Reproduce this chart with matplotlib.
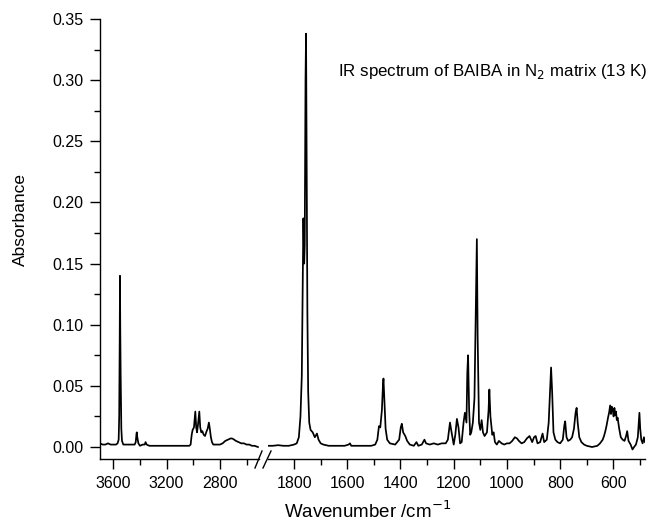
import matplotlib
matplotlib.use("Agg")
import matplotlib.pyplot as plt
from matplotlib.lines import Line2D
from matplotlib.ticker import MultipleLocator

plt.rcParams['font.family'] = ['Liberation Sans', 'DejaVu Sans']

# ---- data: high-wavenumber region (cm-1, absorbance) ----
wn_hi = [3700, 3680, 3660, 3640, 3620, 3600, 3580, 3568, 3560, 3556, 3552, 3550,
         3548, 3545, 3540, 3535, 3525, 3500, 3470, 3440, 3432, 3426, 3424, 3420,
         3412, 3400, 3380, 3365, 3358, 3350, 3330, 3300, 3250, 3200, 3150, 3100,
         3060, 3030, 3020, 3012, 3005, 2995, 2985, 2978, 2972, 2965, 2955, 2948,
         2940, 2932, 2922, 2912, 2900, 2892, 2883, 2876, 2868, 2860, 2850, 2840,
         2820, 2800, 2780, 2760, 2740, 2720, 2710, 2700, 2680, 2660, 2640, 2620,
         2600, 2580, 2560, 2540, 2515]
ab_hi = [0.003, 0.002, 0.002, 0.003, 0.002, 0.002, 0.002, 0.003, 0.006, 0.025, 0.090, 0.140,
         0.098, 0.060, 0.015, 0.005, 0.002, 0.002, 0.002, 0.002, 0.004, 0.011, 0.012, 0.008,
         0.003, 0.001, 0.002, 0.002, 0.004, 0.002, 0.001, 0.001, 0.001, 0.001, 0.001, 0.001,
         0.001, 0.001, 0.002, 0.010, 0.014, 0.016, 0.029, 0.016, 0.012, 0.018, 0.029, 0.016,
         0.012, 0.013, 0.010, 0.009, 0.013, 0.015, 0.020, 0.015, 0.008, 0.004, 0.002, 0.002,
         0.002, 0.002, 0.003, 0.005, 0.006, 0.007, 0.007, 0.0065, 0.005, 0.004, 0.003, 0.003,
         0.002, 0.002, 0.001, 0.001, 0.000]

# ---- data: fingerprint region (cm-1, absorbance) ----
wn_lo = [1897, 1880, 1860, 1840, 1820, 1800, 1790, 1782, 1776, 1771, 1768, 1765,
         1762, 1760, 1757, 1755, 1753, 1750, 1747, 1743, 1738, 1730, 1722, 1714,
         1708, 1700, 1690, 1670, 1650, 1630, 1610, 1595, 1590, 1585, 1560, 1530,
         1510, 1495, 1487, 1481, 1476, 1470, 1466, 1464, 1461, 1456, 1450, 1440,
         1420, 1405, 1399, 1395, 1390, 1382, 1375, 1365, 1350, 1340, 1333, 1320,
         1310, 1304, 1290, 1275, 1260, 1245, 1230, 1222, 1214, 1208, 1200, 1194,
         1188, 1182, 1176, 1170, 1163, 1158, 1152, 1149, 1146, 1142, 1138, 1134,
         1128, 1122, 1117, 1113, 1110, 1105, 1100, 1095, 1090, 1084, 1075, 1069,
         1066, 1062, 1055, 1050, 1045, 1038, 1030, 1020, 1010, 1000, 990, 980,
         970, 962, 955, 945, 935, 925, 915, 905, 898, 892, 885, 875,
         866, 860, 850, 843, 838, 834, 830, 825, 818, 810, 800, 790,
         784, 781, 776, 770, 762, 755, 748, 742, 738, 734, 728, 720,
         710, 700, 690, 680, 670, 660, 650, 640, 635, 630, 625, 620,
         616, 612, 609, 606, 602, 599, 596, 593, 590, 587, 584, 578,
         572, 565, 558, 552, 548, 543, 535, 528, 522, 515, 508, 504,
         502, 499, 495, 490, 485, 481]
ab_lo = [0.001, 0.001, 0.0015, 0.001, 0.001, 0.002, 0.003, 0.008, 0.025, 0.058, 0.120, 0.187,
         0.150, 0.165, 0.300, 0.338, 0.250, 0.110, 0.045, 0.020, 0.014, 0.012, 0.008, 0.011,
         0.006, 0.003, 0.002, 0.001, 0.001, 0.001, 0.001, 0.002, 0.003, 0.001, 0.001, 0.001,
         0.001, 0.002, 0.006, 0.017, 0.016, 0.030, 0.050, 0.056, 0.040, 0.015, 0.006, 0.003,
         0.002, 0.006, 0.016, 0.019, 0.012, 0.009, 0.005, 0.002, 0.001, 0.004, 0.001, 0.002,
         0.006, 0.003, 0.002, 0.003, 0.002, 0.003, 0.003, 0.006, 0.020, 0.012, 0.002, 0.010,
         0.023, 0.016, 0.003, 0.004, 0.020, 0.028, 0.020, 0.060, 0.075, 0.030, 0.010, 0.012,
         0.020, 0.040, 0.110, 0.170, 0.090, 0.020, 0.014, 0.022, 0.012, 0.009, 0.012, 0.030,
         0.047, 0.025, 0.010, 0.012, 0.004, 0.002, 0.005, 0.003, 0.002, 0.003, 0.003, 0.005,
         0.008, 0.007, 0.005, 0.003, 0.004, 0.007, 0.009, 0.004, 0.008, 0.009, 0.003, 0.004,
         0.011, 0.004, 0.006, 0.020, 0.045, 0.065, 0.045, 0.012, 0.006, 0.004, 0.003, 0.006,
         0.018, 0.021, 0.008, 0.005, 0.006, 0.008, 0.015, 0.028, 0.032, 0.020, 0.008, 0.004,
         0.002, 0.001, 0.0005, 0.000, 0.0005, 0.001, 0.003, 0.006, 0.009, 0.013, 0.018, 0.024,
         0.028, 0.034, 0.027, 0.033, 0.030, 0.025, 0.032, 0.026, 0.029, 0.022, 0.024, 0.015,
         0.008, 0.006, 0.005, 0.009, 0.013, 0.005, 0.002, -0.002, 0.000, 0.002, 0.008, 0.022,
         0.028, 0.015, 0.006, 0.003, 0.008, 0.004]

yticks = [0.00, 0.05, 0.10, 0.15, 0.20, 0.25, 0.30, 0.35]
xticks_hi = [3600, 3200, 2800]
xticks_lo = [1800, 1600, 1400, 1200, 1000, 800, 600]

W, H = 650, 527
fig = plt.figure(figsize=(W / 100, H / 100), dpi=100)

def frac(x0, x1, ytop=19, ybot=459):
    return [x0 / W, (H - ybot) / H, (x1 - x0) / W, (ybot - ytop) / H]

ax1 = fig.add_axes(frac(100, 259))
ax2 = fig.add_axes(frac(268, 645))

for ax in (ax1, ax2):
    ax.set_ylim(-0.0098, 0.35)
    ax.spines['top'].set_visible(False)
    ax.spines['right'].set_visible(False)
    for s in ('left', 'bottom'):
        ax.spines[s].set_linewidth(1.0)
    ax.tick_params(which='major', direction='out', length=7, width=1.0, labelsize=11.5, pad=5)
    ax.tick_params(which='minor', direction='out', length=4, width=1.0)
    ax.set_facecolor('none')

ax1.plot(wn_hi, ab_hi, color='black', lw=1.25)
ax2.plot(wn_lo, ab_lo, color='black', lw=1.25)

ax1.set_xlim(3700, 2507)
ax2.set_xlim(1898, 481)

ax1.set_xticks(xticks_hi)
ax1.xaxis.set_minor_locator(MultipleLocator(200))
ax2.set_xticks(xticks_lo)
ax2.xaxis.set_minor_locator(MultipleLocator(100))

ax1.set_yticks(yticks)
ax1.set_yticklabels([f"{v:.2f}" for v in yticks])
ax1.yaxis.set_minor_locator(MultipleLocator(0.025))

ax2.spines['left'].set_visible(False)
ax2.tick_params(axis='y', which='both', left=False, labelleft=False)

# break marks
for xa, xb in [(255, 262), (263, 271)]:
    fig.add_artist(Line2D([xa / W, xb / W], [(H - 468) / H, (H - 451) / H],
                          transform=fig.transFigure, color='black', lw=1.0))

ax2.text(0.186, 0.88, r'IR spectrum of BAIBA in N$_2$ matrix (13 K)',
         transform=ax2.transAxes, ha='left', va='center', fontsize=12.2)

fig.text(368 / W, 1 - 511 / H, r'Wavenumber /cm$^{-1}$', ha='center', va='center', fontsize=13.5)
fig.text(20 / W, 1 - 220 / H, 'Absorbance', ha='center', va='center', rotation=90, fontsize=12.5)

fig.savefig('out.png', dpi=100)
